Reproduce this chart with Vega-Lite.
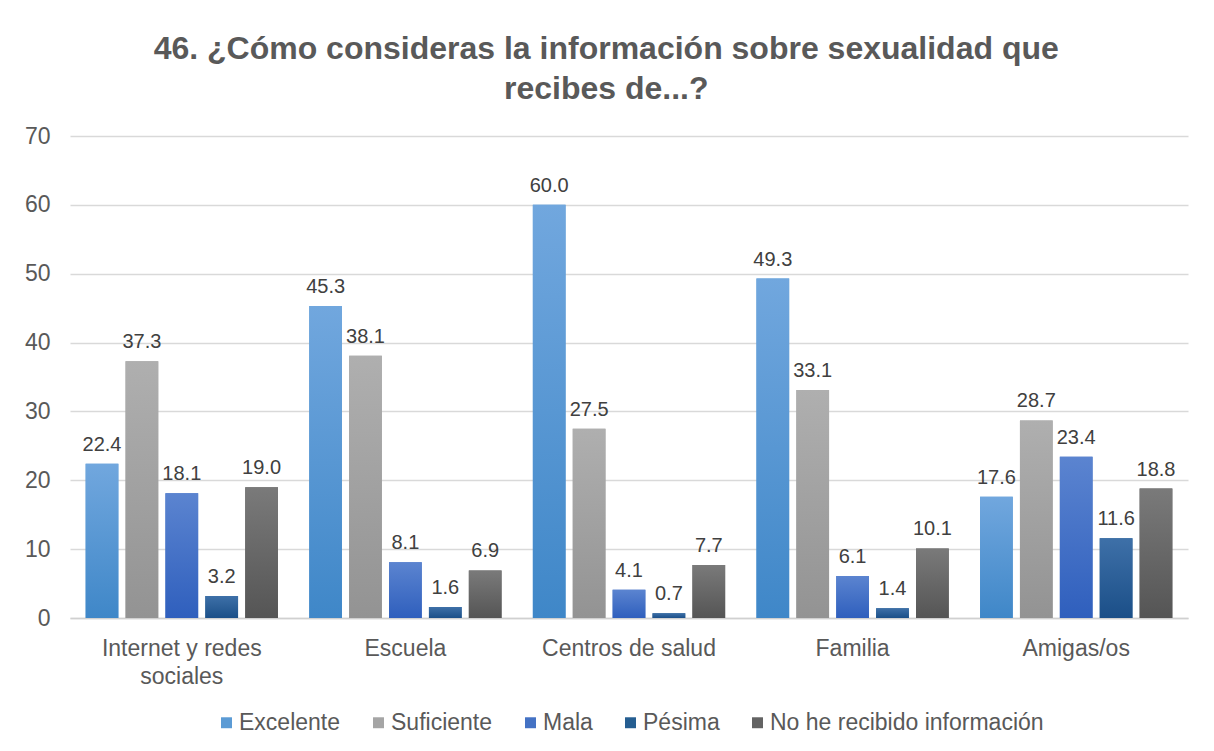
{
  "$schema": "https://vega.github.io/schema/vega-lite/v6.json",
  "width": 1214,
  "height": 751,
  "autosize": {"type": "fit", "contains": "padding"},
  "padding": {"left": 24, "right": 26, "top": 33, "bottom": 16},
  "background": "white",
  "config": {
    "font": "Liberation Sans",
    "view": {"stroke": null},
    "legend": {"layout": {"bottom": {"anchor": "middle"}}}
  },
  "title": {
    "text": ["46. ¿Cómo consideras la información sobre sexualidad que", "recibes de...?"],
    "font": "Liberation Sans",
    "fontSize": 32,
    "fontWeight": "bold",
    "color": "#595959",
    "lineHeight": 40,
    "anchor": "middle",
    "frame": "bounds",
    "offset": 19
  },
  "data": {
    "values": [
      {"fuente": "Internet y redes sociales", "valoracion": "Excelente", "pct": 22.4},
      {"fuente": "Internet y redes sociales", "valoracion": "Suficiente", "pct": 37.3},
      {"fuente": "Internet y redes sociales", "valoracion": "Mala", "pct": 18.1},
      {"fuente": "Internet y redes sociales", "valoracion": "Pésima", "pct": 3.2},
      {"fuente": "Internet y redes sociales", "valoracion": "No he recibido información", "pct": 19.0},
      {"fuente": "Escuela", "valoracion": "Excelente", "pct": 45.3},
      {"fuente": "Escuela", "valoracion": "Suficiente", "pct": 38.1},
      {"fuente": "Escuela", "valoracion": "Mala", "pct": 8.1},
      {"fuente": "Escuela", "valoracion": "Pésima", "pct": 1.6},
      {"fuente": "Escuela", "valoracion": "No he recibido información", "pct": 6.9},
      {"fuente": "Centros de salud", "valoracion": "Excelente", "pct": 60.0},
      {"fuente": "Centros de salud", "valoracion": "Suficiente", "pct": 27.5},
      {"fuente": "Centros de salud", "valoracion": "Mala", "pct": 4.1},
      {"fuente": "Centros de salud", "valoracion": "Pésima", "pct": 0.7},
      {"fuente": "Centros de salud", "valoracion": "No he recibido información", "pct": 7.7},
      {"fuente": "Familia", "valoracion": "Excelente", "pct": 49.3},
      {"fuente": "Familia", "valoracion": "Suficiente", "pct": 33.1},
      {"fuente": "Familia", "valoracion": "Mala", "pct": 6.1},
      {"fuente": "Familia", "valoracion": "Pésima", "pct": 1.4},
      {"fuente": "Familia", "valoracion": "No he recibido información", "pct": 10.1},
      {"fuente": "Amigas/os", "valoracion": "Excelente", "pct": 17.6},
      {"fuente": "Amigas/os", "valoracion": "Suficiente", "pct": 28.7},
      {"fuente": "Amigas/os", "valoracion": "Mala", "pct": 23.4},
      {"fuente": "Amigas/os", "valoracion": "Pésima", "pct": 11.6},
      {"fuente": "Amigas/os", "valoracion": "No he recibido información", "pct": 18.8}
    ]
  },
  "encoding": {
    "x": {
      "field": "fuente",
      "type": "nominal",
      "sort": ["Internet y redes sociales", "Escuela", "Centros de salud", "Familia", "Amigas/os"],
      "scale": {"paddingInner": 0.14, "paddingOuter": 0.07},
      "axis": {
        "title": null,
        "labelAngle": 0,
        "labelFontSize": 23,
        "labelColor": "#595959",
        "labelPadding": 19,
        "labelLineHeight": 28,
        "labelExpr": "datum.value == 'Internet y redes sociales' ? ['Internet y redes', 'sociales'] : datum.value",
        "ticks": false,
        "domainColor": "#d0d0d0",
        "domainWidth": 1.5
      }
    },
    "xOffset": {
      "field": "valoracion",
      "type": "nominal",
      "sort": ["Excelente", "Suficiente", "Mala", "Pésima", "No he recibido información"],
      "scale": {"paddingInner": 0.18}
    },
    "y": {
      "field": "pct",
      "type": "quantitative",
      "scale": {"domain": [0, 70]},
      "axis": {
        "title": null,
        "values": [0, 10, 20, 30, 40, 50, 60, 70],
        "labelFontSize": 23,
        "labelColor": "#595959",
        "labelPadding": 20,
        "ticks": false,
        "domain": false,
        "gridColor": "#d9d9d9",
        "gridWidth": 1.5
      }
    }
  },
  "layer": [
    {
      "mark": {"type": "bar"},
      "encoding": {
        "color": {
          "field": "valoracion",
          "type": "nominal",
          "sort": ["Excelente", "Suficiente", "Mala", "Pésima", "No he recibido información"],
          "scale": {
            "domain": ["Excelente", "Suficiente", "Mala", "Pésima", "No he recibido información"],
            "range": ["#5b9bd5", "#a5a5a5", "#4472c4", "#255e91", "#636363"]
          },
          "legend": {
            "title": null,
            "orient": "bottom",
            "direction": "horizontal",
            "symbolType": "square",
            "symbolSize": 120,
            "symbolStrokeWidth": 0,
            "labelFontSize": 23,
            "labelColor": "#595959",
            "labelOffset": 1,
            "columnPadding": 26,
            "labelLimit": 400,
            "offset": 23
          }
        }
      }
    },
    {
      "mark": {"type": "bar"},
      "encoding": {
        "color": {
          "condition": [
            {"test": "datum.valoracion === 'Excelente'", "value": {"gradient": "linear", "x1": 0, "y1": 0, "x2": 0, "y2": 1, "stops": [{"offset": 0, "color": "#71a7de"}, {"offset": 1, "color": "#3f87c8"}]}},
            {"test": "datum.valoracion === 'Suficiente'", "value": {"gradient": "linear", "x1": 0, "y1": 0, "x2": 0, "y2": 1, "stops": [{"offset": 0, "color": "#afafaf"}, {"offset": 1, "color": "#939393"}]}},
            {"test": "datum.valoracion === 'Mala'", "value": {"gradient": "linear", "x1": 0, "y1": 0, "x2": 0, "y2": 1, "stops": [{"offset": 0, "color": "#5b84d0"}, {"offset": 1, "color": "#2f5fbd"}]}},
            {"test": "datum.valoracion === 'Pésima'", "value": {"gradient": "linear", "x1": 0, "y1": 0, "x2": 0, "y2": 1, "stops": [{"offset": 0, "color": "#3e70a8"}, {"offset": 1, "color": "#1b4f88"}]}}
          ],
          "value": {"gradient": "linear", "x1": 0, "y1": 0, "x2": 0, "y2": 1, "stops": [{"offset": 0, "color": "#7a7a7a"}, {"offset": 1, "color": "#555555"}]}
        }
      }
    },
    {
      "mark": {"type": "text", "baseline": "bottom", "dy": -9, "fontSize": 20, "color": "#404040"},
      "encoding": {
        "text": {"field": "pct", "type": "quantitative", "format": ".1f"}
      }
    }
  ]
}
